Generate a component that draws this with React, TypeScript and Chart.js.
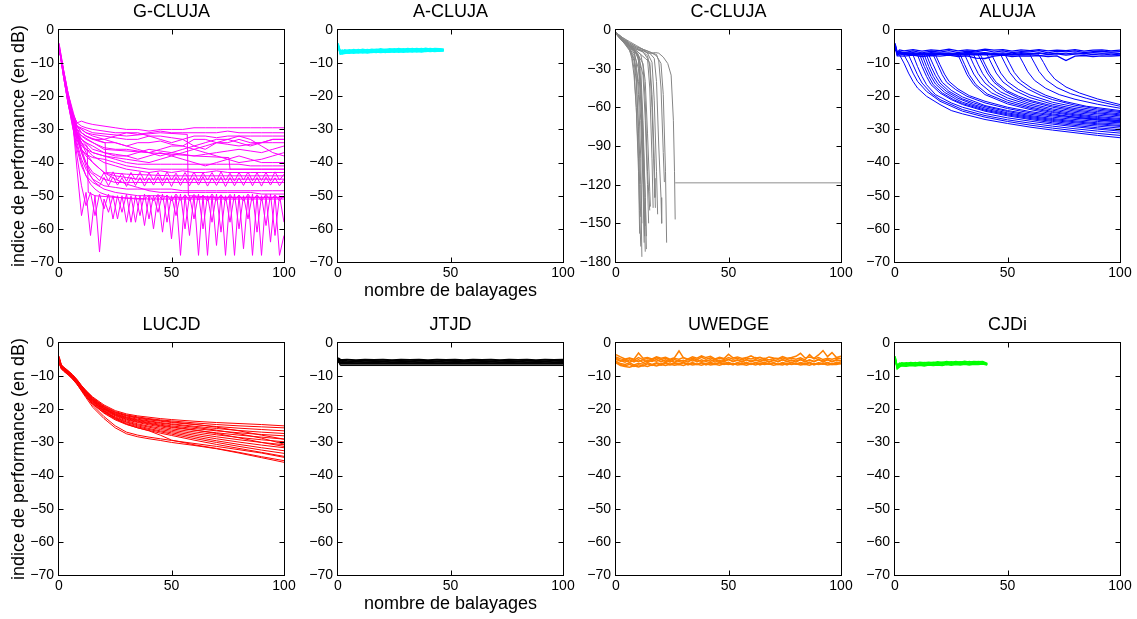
import React, { useEffect, useRef } from 'react';
import { Chart, registerables } from 'chart.js';

Chart.register(...registerables);

// ---------------- DATA ----------------
// G-CLUJA (magenta)
const gcX = [0, 2, 4, 6, 8, 10, 12, 15, 20, 25, 30, 35, 40, 45, 50, 55, 60, 65, 70, 75, 80, 85, 90, 95, 100];
const gcLines = [
  [-4, -12, -19, -25, -28, -27.5, -28, -28.5, -29, -29.5, -30, -30, -30.5, -30, -30, -30, -29.5, -29.5, -29.5, -29.5, -29.5, -29.5, -29.5, -29.5, -29.5],
  [-4, -12, -19, -25, -28, -29, -29.5, -30, -30.5, -31, -31, -31.5, -31, -30.5, -31, -31, -31, -31, -31, -30.5, -31, -31, -31, -31, -31],
  [-5, -13, -20, -26, -29, -30, -31, -31.5, -32, -32.5, -33, -33, -32, -32, -32.5, -33, -32, -32, -32.5, -32, -32, -32, -32, -32, -32],
  [-5, -13, -20, -26, -29, -31, -32, -33, -34, -34, -35, -34, -34, -33.5, -34.5, -35, -33, -33, -34, -34, -33, -34, -34, -33, -33],
  [-5, -13, -20, -26, -30, -32, -33, -34, -35.5, -36, -36, -36.5, -37, -36, -35, -35, -36, -35, -34, -34.5, -35, -34.5, -34, -34, -34],
  [-5, -13, -20, -26, -30, -33, -34, -35, -37, -37.5, -38, -37, -36, -36.5, -37, -37.5, -38, -37.5, -37, -36.5, -36, -36.5, -37, -36, -35],
  [-5, -13, -21, -27, -31, -34, -35, -37, -38, -38.5, -39, -39.5, -40, -39, -38, -37, -36, -37, -38, -39, -40, -39.5, -39, -38, -37],
  [-5, -13, -21, -27, -31, -35, -36, -37, -38, -39, -40, -40.5, -40.5, -40.5, -40.5, -40.5, -40.5, -40.5, -40.5, -40.5, -40.5, -41, -41, -41, -41],
  [-5, -13, -21, -27, -32, -36, -37.5, -38.5, -39, -40, -41, -41.5, -42, -42, -42, -42, -42, -42, -42, -42, -42, -42, -42, -42, -42],
  [-5, -13, -21, -27, -32, -34, -36, -38, -40, -41, -42, -42.5, -43, -42.5, -43, -42.5, -43, -43, -42.5, -43, -43, -43, -43, -43, -43],
  [-5, -13, -21, -28, -33, -36, -38, -40, -43, -44, -44.5, -45, -45, -45, -45, -45, -45, -45, -45, -45, -45, -45, -45, -45, -45],
  [-5, -14, -22, -28, -33, -37, -40, -43, -45, -46, -46, -46, -46, -46, -46, -46, -46, -46, -46, -46, -46, -46, -46, -46, -46],
  [-5, -14, -22, -28, -34, -39, -42, -45, -47, -47.5, -48, -48, -48, -48, -48, -48.5, -48.5, -48.5, -48.5, -48.5, -48.5, -48.5, -48.5, -48.5, -48.5],
  [-5, -13, -21, -27, -31, -34, -37, -40, -43, -45, -46.5, -47.5, -48.5, -49, -49, -49, -49, -49, -49, -49, -49, -49, -49.5, -49.5, -49.5],
  [-5, -14, -22, -29, -36, -41, -44, -46, -48, -49, -49.5, -50, -50, -50, -50.5, -50.5, -50.5, -50.5, -50.5, -50.5, -50.5, -50.5, -50.5, -50.5, -50.5],
  [-5, -13, -20, -26, -29, -31, -32, -33, -33, -32, -31, -31, -32, -33, -34, -33, -35, -36, -34, -33, -32, -33, -35, -37, -38],
  [-5, -13, -20, -26, -29, -30, -31, -32, -33, -34, -35, -36, -37, -38, -37, -36, -35, -34, -33, -33, -34, -35, -34, -33, -33],
  [-5, -13, -21, -27, -31, -33, -34, -36, -37, -38, -38, -39, -38, -37, -38, -39, -40, -41, -40, -39, -38, -39, -40, -40, -40],
];
const gzX = [0, 2, 4, 6, 8, 10, 12, 14, 16, 18, 20, 22, 24, 26, 28, 30, 32, 34, 36, 38, 40, 42, 44, 46, 48, 50, 52, 54, 56, 58, 60, 62, 64, 66, 68, 70, 72, 74, 76, 78, 80, 82, 84, 86, 88, 90, 92, 94, 96, 98, 100];
const gzLines = [
  [-5, -13, -20, -26, -31, -36, -40, -43, -44, -45.5,
    -43, -45.5, -42.8, -45.2, -43.2, -45.6, -43, -45.3, -42.9, -45.5,
    -43.1, -45.4, -43, -45.6, -42.8, -45.3, -43.2, -45.5, -43, -45.4,
    -42.9, -45.6, -43.1, -45.3, -43, -45.5, -42.8, -45.4, -43.2, -45.6,
    -43, -45.3, -42.9, -45.5, -43.1, -45.4, -43, -45.6, -42.8, -45.3, -43.5],
  [-5, -13, -20, -27, -32, -37, -41, -44, -46, -47,
    -44.5, -47, -44.3, -46.8, -44.6, -47.2, -44.4, -46.9, -44.5, -47.1,
    -44.6, -46.8, -44.3, -47, -44.5, -47.2, -44.4, -46.9, -44.6, -47,
    -44.5, -46.8, -44.3, -47.1, -44.6, -46.9, -44.4, -47.2, -44.5, -47,
    -44.6, -46.9, -44.3, -47, -44.5, -47.1, -44.4, -46.8, -44.6, -47, -45],
  [-5, -14, -22, -29, -35, -40, -44, -46.5, -48, -49,
    -49.5, -50, -50.2, -50.5, -50.6, -50.8, -50.8, -51, -51, -51,
    -49.8, -51.5, -49.6, -51.3, -49.8, -51.6, -49.5, -51.4, -49.7, -51.5,
    -49.6, -51.3, -49.8, -51.6, -49.5, -51.4, -49.7, -51.5, -49.6, -51.3,
    -49.8, -51.6, -49.5, -51.4, -49.7, -51.5, -49.6, -51.3, -49.8, -51.5, -50],
  [-5, -13, -20, -27, -42, -56, -49, -62, -50, -67,
    -51, -55, -50, -57, -50, -58, -50, -58, -50, -59,
    -50, -60, -50, -61, -50, -63, -50, -68, -50, -62,
    -50, -68, -50, -68, -50, -65, -50, -68, -50, -68,
    -50, -66, -50, -68, -50, -68, -50, -64, -50, -68, -62],
  [-5, -13, -21, -28, -38, -47, -53, -49, -56, -49.5,
    -54, -49.5, -57, -50, -55, -49.5, -58, -50, -56, -49.5,
    -57, -50, -55, -49.5, -58, -50, -56, -49.5, -60, -50,
    -57, -49.5, -60, -50, -58, -49.5, -61, -50, -58, -49.5,
    -60, -50, -57, -49.5, -61, -50, -59, -49.5, -62, -50, -58],
];
const gsLines = [
  [[0, -5], [4, -20], [8, -31], [10, -33], [12.5, -35], [13, -49], [16, -50], [25, -50.5], [40, -51], [100, -51]],
  [[0, -5], [4, -20], [8, -30], [12, -32], [16, -33], [20.5, -34], [21, -43], [30, -43.5], [50, -44], [100, -44]],
  [[0, -5], [4, -19], [8, -29], [15, -31], [30, -32], [45, -31], [57, -31.5], [57.5, -50], [70, -50.5], [100, -50.5]],
  [[0, -5], [4, -20], [8, -31], [20, -36], [40, -37], [60, -38], [75.5, -38.5], [76, -42], [90, -42], [100, -42]],
];

// A-CLUJA (cyan)
const acX = [0, 1, 2, 3, 5, 7, 9, 11, 13, 15, 17, 19, 21, 23, 25, 27, 29, 31, 33, 35, 37, 39, 41, 43, 45, 47];
const acLines = [
  [-4, -6.6, -6.9, -6.4, -6.8, -6.3, -6.7, -6.2, -6.6, -6.2, -6.5, -6.1, -6.5, -6.1, -6.4, -6.0, -6.4, -6.0, -6.3, -5.9, -6.3, -5.9, -6.2, -5.9, -6.1, -6.0],
  [-4.5, -7.1, -7.2, -6.9, -7.0, -6.7, -6.9, -6.6, -6.9, -6.6, -6.8, -6.5, -6.8, -6.5, -6.7, -6.4, -6.7, -6.4, -6.6, -6.3, -6.6, -6.3, -6.5, -6.3, -6.4, -6.3],
  [-5, -6.8, -6.5, -6.0, -6.3, -5.9, -6.2, -5.8, -6.1, -5.8, -6.0, -5.7, -6.0, -5.7, -5.9, -5.6, -5.9, -5.6, -5.8, -5.6, -5.8, -5.5, -5.8, -5.6, -5.7, -5.9],
  [-4.2, -7.3, -7.0, -7.1, -6.8, -7.0, -6.7, -6.9, -6.7, -6.8, -6.6, -6.8, -6.6, -6.7, -6.5, -6.7, -6.5, -6.6, -6.4, -6.6, -6.4, -6.5, -6.3, -6.5, -6.3, -6.2],
  [-4.8, -6.3, -6.1, -6.4, -6.0, -6.3, -5.9, -6.2, -5.9, -6.1, -5.8, -6.1, -5.8, -6.0, -5.7, -6.0, -5.7, -5.9, -5.6, -5.9, -5.6, -5.8, -5.6, -5.8, -5.7, -5.8],
  [-4.4, -6.9, -6.6, -6.7, -6.5, -6.6, -6.4, -6.6, -6.3, -6.5, -6.3, -6.4, -6.2, -6.4, -6.2, -6.3, -6.1, -6.3, -6.1, -6.2, -6.0, -6.2, -6.0, -6.1, -6.0, -6.2],
];

// C-CLUJA (grey)
const ccLines = [
  [[0, -2], [2, -6], [4, -10], [6, -15], [7, -22], [8, -35], [9, -60], [10, -100], [10.5, -140], [11, -168]],
  [[0, -2], [2, -6], [4, -10], [6, -14], [8, -24], [9, -40], [10, -75], [11, -120], [11.5, -176]],
  [[0, -3], [2, -7], [4, -11], [6, -15], [8, -22], [10, -40], [11, -70], [12, -120], [12.5, -165]],
  [[0, -3], [2, -7], [4, -10], [6, -13], [8, -18], [10, -30], [11, -55], [12, -100], [13, -172]],
  [[0, -2], [2, -6], [4, -9], [6, -12], [8, -16], [10, -22], [11, -40], [12, -80], [13, -130], [13.5, -160]],
  [[0, -3], [3, -8], [6, -12], [8, -15], [10, -20], [12, -35], [13, -70], [14, -120], [14.5, -150]],
  [[0, -3], [3, -8], [6, -12], [9, -16], [11, -19], [12, -28], [13, -55], [14, -110], [15, -140]],
  [[0, -2], [3, -8], [6, -13], [9, -17], [10, -22], [11, -45], [12, -90], [12.5, -130], [13, -152]],
  [[0, -3], [3, -9], [6, -14], [8, -20], [9, -35], [10, -80], [10.5, -120], [11, -145]],
  [[0, -2], [3, -7], [6, -11], [9, -15], [12, -17], [14, -22], [15, -45], [16, -100], [16.5, -138]],
  [[0, -3], [3, -8], [6, -12], [9, -15], [12, -16], [14, -18], [16, -25], [17, -55], [18, -110], [18.5, -143]],
  [[0, -3], [3, -8], [6, -11], [9, -14], [12, -16], [15, -18], [17, -22], [18, -40], [19, -90], [20, -130], [20.3, -150]],
  [[0, -2], [3, -7], [6, -10], [9, -13], [12, -15], [15, -17], [18, -20], [20, -26], [21, -50], [22, -110], [22.5, -165]],
  [[0, -2], [3, -6], [6, -9], [9, -12], [12, -15], [14, -18], [16, -18], [17.5, -17.5], [19, -18], [21, -21], [23, -26], [24.5, -35], [25.5, -70], [26, -110], [26.3, -147]],
  [[0, -3], [3, -8], [6, -12], [9, -16], [11, -19], [13, -22], [15, -25], [16, -50], [17, -100], [17.5, -138]],
  [[0, -3], [2, -7], [4, -11], [6, -16], [7, -20], [8, -30], [9, -60], [10, -110], [10.5, -158]],
  [[0, -2], [2, -6], [5, -11], [7, -15], [9, -18], [10, -24], [11, -50], [12, -110], [12.7, -160]],
  [[0, -3], [3, -8], [6, -12], [8, -15], [10, -19], [11, -30], [12, -70], [13, -130], [13.5, -170]],
  [[0, -3], [3, -8], [5, -11], [8, -16], [10, -20], [12, -26], [13, -40], [14, -80], [15, -125], [15.3, -137]],
  [[0, -2], [3, -7], [6, -11], [9, -14], [12, -17], [14, -20], [15, -28], [16, -60], [17, -115], [17.3, -130]],
  [[0, -3], [3, -8], [6, -13], [8, -16], [9, -25], [10, -50], [11, -100], [11.5, -150]],
  [[0, -2], [3, -6], [6, -10], [9, -13], [12, -15], [15, -17], [18, -19], [19, -24], [20, -45], [21, -95], [21.5, -118]],
];
const ccFloor = [[26.3, -118.5], [100, -118.5]];

// ALUJA (blue)
const alX = [0, 1, 2, 4, 8, 12, 16, 20, 24, 28, 32, 36, 40, 44, 48, 52, 56, 60, 64, 68, 72, 76, 80, 84, 88, 92, 96, 100];
const alBand = [
  [-4, -7, -6.5, -6.8, -6.3, -6.9, -6.4, -6.7, -6.2, -6.8, -6.4, -6.6, -6.1, -6.7, -6.3, -6.8, -6.5, -6.6, -6.2, -6.9, -6.4, -6.6, -6.3, -6.8, -6.5, -6.4, -6.7, -6.5],
  [-4.5, -7.5, -7.2, -7.4, -7.1, -7.5, -7.0, -7.3, -7.2, -7.6, -7.1, -7.3, -7.0, -7.4, -7.2, -7.5, -7.1, -7.3, -7.0, -7.4, -7.2, -7.6, -7.3, -7.1, -7.4, -7.2, -7.5, -7.3],
  [-5, -7.8, -7.8, -7.9, -7.6, -8.0, -7.7, -7.9, -7.6, -8.0, -7.8, -8.5, -8.6, -7.9, -7.6, -8.0, -7.8, -7.9, -7.7, -8.0, -7.8, -9.2, -7.9, -7.7, -8.0, -7.8, -7.9, -7.7],
  [-4.2, -6.8, -6.0, -6.3, -5.9, -6.4, -6.0, -6.2, -5.8, -6.3, -6.0, -6.2, -5.8, -6.1, -5.9, -6.4, -6.0, -6.2, -5.9, -6.3, -6.1, -6.2, -5.9, -6.4, -6.1, -6.0, -6.3, -6.1],
  [-4.8, -7.2, -6.9, -7.1, -6.8, -7.2, -6.8, -7.0, -6.9, -7.2, -6.7, -7.0, -6.8, -7.1, -6.9, -7.2, -6.8, -7.1, -6.9, -7.3, -7.0, -7.2, -6.9, -7.1, -6.8, -7.0, -6.9, -7.1],
];
const alDrops = [
  [[0, -5], [1, -7], [2, -7.5], [4, -10], [6, -13], [8, -15.5], [10, -17.5], [14, -20], [20, -22.5], [25, -24.3], [30, -25.3], [40, -27], [50, -28.2], [60, -29.3], [70, -30.2], [80, -31], [90, -31.8], [100, -32.5]],
  [[0, -5], [1, -7], [4, -7.5], [6, -10], [8, -13], [10, -15.5], [14, -18.5], [20, -21.5], [30, -24.5], [40, -26.3], [50, -27.6], [60, -28.7], [70, -29.6], [80, -30.4], [90, -31.2], [100, -31.8]],
  [[0, -5], [1, -7], [6, -7.5], [8, -10.5], [10, -13.5], [12, -16], [16, -19], [20, -21], [30, -24], [40, -25.8], [50, -27.1], [60, -28.1], [70, -29], [80, -29.8], [90, -30.5], [100, -31.1]],
  [[0, -5], [1, -7], [8, -7.5], [10, -11], [12, -14], [14, -16.5], [18, -19.5], [25, -22], [30, -23.3], [40, -25.2], [50, -26.5], [60, -27.5], [70, -28.4], [80, -29.2], [90, -29.9], [100, -30.5]],
  [[0, -5], [1, -7], [10, -7.5], [12, -11], [14, -14], [16, -16.5], [20, -19], [25, -21], [30, -22.5], [40, -24.5], [50, -25.9], [60, -27], [70, -28], [80, -28.8], [90, -29.5], [100, -30.1]],
  [[0, -5], [1, -7], [11, -7.5], [13, -11], [15, -14], [17, -16.5], [21, -19], [26, -21], [30, -22.2], [40, -24.2], [50, -25.6], [60, -26.7], [70, -27.6], [80, -28.4], [90, -29], [100, -29.6]],
  [[0, -5], [1, -7], [12, -7.5], [14, -11], [16, -14], [18, -16.3], [22, -18.8], [27, -20.8], [30, -21.8], [40, -23.9], [50, -25.3], [60, -26.4], [70, -27.3], [80, -28], [90, -28.6], [100, -29.1]],
  [[0, -5], [1, -7], [13, -7.5], [15, -11], [17, -14], [19, -16.2], [23, -18.6], [28, -20.6], [35, -22.5], [40, -23.5], [50, -25], [60, -26.1], [70, -27], [80, -27.7], [90, -28.3], [100, -28.8]],
  [[0, -5], [1, -7], [14, -7.5], [16, -11], [18, -13.8], [20, -16], [24, -18.5], [30, -20.8], [35, -22], [40, -23.1], [50, -24.6], [60, -25.8], [70, -26.7], [80, -27.4], [90, -28], [100, -28.4]],
  [[0, -5], [1, -7], [15, -7.5], [17, -10.5], [19, -13.5], [21, -15.8], [25, -18.2], [30, -20.2], [40, -22.8], [50, -24.3], [60, -25.4], [70, -26.3], [80, -27], [90, -27.6], [100, -28]],
  [[0, -5], [1, -7], [17, -7.5], [19, -10.5], [21, -13.5], [23, -15.8], [27, -18], [32, -20], [40, -22], [50, -23.7], [60, -25], [70, -25.9], [80, -26.6], [90, -27.2], [100, -27.6]],
  [[0, -5], [1, -7], [18, -7.5], [20, -10.5], [22, -13.3], [24, -15.5], [28, -17.8], [33, -19.8], [40, -21.5], [50, -23.3], [60, -24.6], [70, -25.6], [80, -26.3], [90, -26.9], [100, -27.3]],
  [[0, -5], [1, -7], [28, -7.5], [30, -10.5], [32, -13.5], [35, -16.5], [40, -19.5], [50, -22.3], [60, -24], [70, -25.3], [80, -26.3], [90, -27.1], [100, -27.8]],
  [[0, -5], [1, -7], [29, -7.5], [31, -10.5], [33, -13.5], [36, -16.5], [41, -19.3], [50, -21.8], [60, -23.6], [70, -24.9], [80, -25.9], [90, -26.7], [100, -27.4]],
  [[0, -5], [1, -7], [31, -7.5], [33, -10.5], [35, -13.3], [38, -16.2], [43, -19], [50, -21.2], [60, -23.2], [70, -24.6], [80, -25.6], [90, -26.4], [100, -27]],
  [[0, -5], [1, -7], [33, -7.5], [35, -10.5], [37, -13.2], [40, -16], [45, -18.8], [50, -20.5], [60, -22.7], [70, -24.2], [80, -25.3], [90, -26.1], [100, -26.7]],
  [[0, -5], [1, -7], [35, -7.5], [37, -10.5], [39, -13.2], [42, -16], [47, -18.7], [52, -20.3], [60, -22.2], [70, -23.8], [80, -24.9], [90, -25.7], [100, -26.3]],
  [[0, -5], [1, -7], [37, -7.5], [39, -10.3], [41, -13], [44, -15.8], [49, -18.5], [55, -20.5], [60, -21.6], [70, -23.3], [80, -24.5], [90, -25.3], [100, -25.9]],
  [[0, -5], [1, -7], [38, -7.5], [40, -10.3], [42, -13], [45, -15.8], [50, -18.4], [55, -20], [60, -21.2], [70, -22.9], [80, -24.1], [90, -25], [100, -25.6]],
  [[0, -5], [1, -7], [41, -7.5], [43, -10.3], [45, -13], [48, -15.7], [53, -18.2], [60, -20.4], [70, -22.4], [80, -23.7], [90, -24.6], [100, -25.3]],
  [[0, -5], [1, -7], [43, -7.5], [45, -10.3], [47, -13], [50, -15.6], [55, -18], [60, -19.6], [70, -21.8], [80, -23.2], [90, -24.2], [100, -24.9]],
  [[0, -5], [1, -7], [47, -7.5], [49, -10.2], [51, -12.8], [54, -15.4], [59, -17.8], [65, -19.8], [70, -21], [80, -22.7], [90, -23.8], [100, -24.6]],
  [[0, -5], [1, -7], [49, -7.5], [51, -10.2], [53, -12.8], [56, -15.3], [61, -17.7], [67, -19.7], [75, -21.5], [85, -23], [100, -24.3]],
  [[0, -5], [1, -7], [55, -7.5], [57, -10], [59, -12.6], [62, -15.2], [67, -17.6], [73, -19.5], [80, -20.9], [90, -22.4], [100, -23.6]],
  [[0, -5], [1, -7], [60, -7.5], [62, -10], [64, -12.5], [67, -15], [72, -17.4], [78, -19.2], [85, -20.6], [92, -21.8], [100, -23]],
  [[0, -5], [1, -7], [64, -7.5], [66, -9.8], [68, -12.3], [71, -14.8], [76, -17.2], [82, -19], [90, -20.8], [100, -22.5]],
];

// LUCJD (red)
const lcX = [0, 1, 2, 4, 6, 8, 10, 12, 15, 20, 25, 30, 35, 40, 45, 50, 60, 70, 80, 90, 100];
const lcLines = [
  [-4, -6.5, -7.2, -8.3, -9.5, -11, -12.8, -14.3, -16.3, -18.7, -20.4, -21.4, -22, -22.4, -22.8, -23.1, -23.6, -24, -24.3, -24.6, -25],
  [-4, -6.6, -7.3, -8.4, -9.6, -11.1, -12.9, -14.5, -16.5, -19, -20.7, -21.7, -22.3, -22.8, -23.2, -23.5, -24.1, -24.6, -25, -25.3, -25.6],
  [-4.5, -6.8, -7.5, -8.6, -9.8, -11.3, -13.1, -14.7, -16.8, -19.3, -21, -22, -22.7, -23.2, -23.6, -24, -24.6, -25.2, -25.7, -26.1, -26.5],
  [-4.5, -7, -7.6, -8.7, -9.9, -11.4, -13.2, -14.8, -17, -19.5, -21.2, -22.3, -23, -23.5, -24, -24.4, -25.1, -25.8, -26.4, -26.9, -27.3],
  [-5, -7.1, -7.8, -8.8, -10, -11.6, -13.4, -15, -17.2, -19.8, -21.5, -22.6, -23.4, -24, -24.5, -25, -25.8, -26.5, -27.1, -27.6, -28],
  [-5, -7.2, -7.9, -9, -10.2, -11.7, -13.5, -15.2, -17.4, -20, -21.8, -23, -23.8, -24.4, -25, -25.5, -26.3, -27.1, -27.8, -28.4, -29],
  [-5, -7.3, -8, -9.1, -10.3, -11.9, -13.7, -15.4, -17.6, -20.2, -22, -23.2, -24, -24.7, -25.3, -25.9, -26.8, -27.7, -28.5, -29.2, -29.8],
  [-5.5, -7.4, -8.1, -9.2, -10.5, -12, -13.8, -15.5, -17.8, -20.4, -22.3, -23.5, -24.4, -25.1, -25.7, -26.3, -27.3, -28.3, -29.2, -30, -30.7],
  [-5.5, -7.5, -8.2, -9.3, -10.6, -12.2, -14, -15.7, -18, -20.6, -22.5, -23.8, -24.7, -25.4, -26.1, -26.7, -27.8, -28.9, -29.9, -30.8, -31.6],
  [-6, -7.6, -8.3, -9.4, -10.7, -12.3, -14.1, -15.8, -18.2, -20.8, -22.7, -24, -25, -25.8, -26.5, -27.1, -28.3, -29.5, -30.6, -31.6, -32.5],
  [-6, -7.7, -8.4, -9.5, -10.8, -12.4, -14.2, -16, -18.4, -21, -23, -24.3, -25.3, -26.1, -26.8, -27.5, -28.8, -30, -31.2, -32.3, -33.3],
  [-6, -7.8, -8.5, -9.6, -10.9, -12.5, -14.3, -16.1, -18.5, -21.2, -23.2, -24.6, -25.6, -26.4, -27.2, -27.9, -29.3, -30.6, -31.8, -33, -34.2],
  [-5, -7.3, -8, -9.2, -10.5, -12.2, -14.2, -16.1, -18.8, -22.2, -25, -26.9, -27.8, -28.4, -28.9, -29.4, -30.3, -31.2, -32.2, -33.2, -34.5],
  [-5, -7.4, -8.1, -9.3, -10.6, -12.4, -14.5, -16.5, -19.4, -22.8, -25.6, -27.4, -28.3, -28.9, -29.4, -30, -30.9, -31.9, -33.2, -34.6, -36],
  [-5, -7, -7.7, -8.8, -10, -11.6, -13.5, -15.3, -17.6, -20.5, -22.8, -24.5, -25.6, -26.5, -27.8, -29.3, -30.7, -31.8, -33, -34.3, -35.5],
  [-4.5, -6.7, -7.4, -8.5, -9.7, -11.2, -13, -14.6, -16.7, -19.2, -20.9, -21.9, -22.5, -23, -23.4, -23.8, -24.5, -25.4, -26.5, -27.8, -29],
  [-4.5, -6.9, -7.6, -8.6, -9.8, -11.4, -13.2, -14.9, -17.1, -19.7, -21.4, -22.5, -23.2, -23.7, -24.2, -24.6, -25.4, -26.3, -27.4, -28.7, -30.5],
  [-5, -7, -7.7, -8.8, -10, -11.5, -13.3, -15, -17.3, -19.9, -21.7, -22.8, -23.6, -24.2, -24.8, -25.3, -26.2, -27.3, -28.6, -30, -31.2],
];

// JTJD (black)
const jtX = alX;
const jtLines = [
  [-4.5, -5.0, -5.1, -5.0, -5.2, -5.0, -5.1, -5.0, -5.2, -5.0, -5.1, -5.0, -5.2, -5.0, -5.1, -5.0, -5.2, -5.0, -5.1, -5.0, -5.2, -5.0, -5.1, -5.0, -5.2, -5.0, -5.1, -5.0],
  [-4.8, -5.4, -5.3, -5.4, -5.5, -5.3, -5.4, -5.5, -5.3, -5.4, -5.5, -5.3, -5.4, -5.5, -5.3, -5.4, -5.5, -5.3, -5.4, -5.5, -5.3, -5.4, -5.5, -5.3, -5.4, -5.5, -5.3, -5.4],
  [-5, -5.8, -5.7, -5.8, -5.6, -5.8, -5.7, -5.6, -5.8, -5.7, -5.6, -5.8, -5.7, -5.6, -5.8, -5.7, -5.6, -5.8, -5.7, -5.6, -5.8, -5.7, -5.6, -5.8, -5.7, -5.6, -5.8, -5.7],
  [-5.2, -6.1, -6.0, -5.9, -6.1, -6.0, -5.9, -6.1, -6.0, -5.9, -6.1, -6.0, -5.9, -6.1, -6.0, -5.9, -6.1, -6.0, -5.9, -6.1, -6.0, -5.9, -6.1, -6.0, -5.9, -6.1, -6.0, -5.9],
  [-5.5, -6.3, -6.2, -6.3, -6.2, -6.3, -6.2, -6.3, -6.2, -6.3, -6.2, -6.3, -6.2, -6.3, -6.2, -6.3, -6.2, -6.3, -6.2, -6.3, -6.2, -6.3, -6.2, -6.3, -6.2, -6.3, -6.2, -6.3],
];
const jtThin = [[0, -5], [1, -6.8], [100, -6.8]];

// UWEDGE (orange)
const uwX = gzX;
const uwLines = [
  [-3.5, -4.2, -4.8, -4.5, -4.9, -3.0, -4.6, -4.4, -4.8, -4.2,
    -4.6, -4.3, -4.9, -4.4, -2.4, -4.5, -4.8, -4.2, -4.6, -3.9,
    -4.4, -4.0, -4.8, -4.3, -4.7, -3.4, -4.5, -4.2, -4.7, -4.4,
    -3.9, -4.6, -4.3, -4.8, -4.2, -4.5, -4.7, -4.1, -4.6, -4.4,
    -4.0, -3.1, -4.5, -4.2, -4.6, -3.6, -2.3, -4.1, -2.9, -4.4, -4.0],
  [-5.0, -5.5, -5.2, -5.8, -5.3, -5.6, -5.1, -5.7, -5.2, -5.5,
    -5.0, -5.6, -5.3, -5.8, -5.2, -5.5, -5.0, -5.4, -5.1, -5.6,
    -5.2, -5.5, -5.1, -5.6, -5.3, -5.0, -5.5, -5.2, -5.6, -5.1,
    -5.4, -5.0, -5.5, -5.2, -5.7, -5.3, -5.5, -5.1, -5.6, -5.2,
    -5.4, -5.0, -5.5, -5.2, -5.6, -5.1, -5.4, -5.0, -5.5, -5.2, -5.3],
  [-5.5, -6.2, -6.5, -6.0, -6.6, -6.1, -6.4, -5.9, -6.5, -6.0,
    -6.3, -5.8, -6.4, -6.0, -6.2, -5.8, -6.3, -5.9, -6.4, -6.0,
    -6.2, -5.8, -6.3, -5.9, -6.1, -5.8, -6.4, -6.0, -6.2, -5.8,
    -6.3, -5.9, -6.1, -5.8, -6.3, -6.0, -6.4, -5.9, -6.2, -5.8,
    -6.3, -5.9, -6.2, -5.8, -6.4, -6.0, -6.2, -5.9, -6.3, -5.8, -6.0],
  [-6.0, -6.8, -7.1, -7.3, -6.9, -7.2, -6.8, -7.1, -6.6, -6.9,
    -6.5, -6.8, -6.4, -6.7, -6.5, -6.8, -6.3, -6.6, -6.4, -6.7,
    -6.3, -6.6, -6.4, -6.7, -6.3, -6.5, -6.2, -6.6, -6.4, -6.7,
    -6.3, -6.6, -6.2, -6.5, -6.3, -6.7, -6.4, -6.6, -6.2, -6.5,
    -6.3, -6.6, -6.4, -6.7, -6.2, -6.5, -6.3, -6.6, -6.4, -6.5, -6.2],
  [-4.2, -4.8, -5.1, -4.6, -5.2, -4.4, -5.0, -4.7, -5.1, -4.5,
    -5.0, -4.6, -5.2, -4.7, -4.9, -4.4, -5.1, -4.6, -5.0, -4.3,
    -4.9, -4.5, -5.1, -4.6, -5.0, -4.4, -4.9, -4.6, -5.1, -4.5,
    -4.8, -4.4, -5.0, -4.6, -5.1, -4.7, -4.9, -4.5, -5.0, -4.6,
    -4.9, -4.5, -5.1, -3.5, -4.8, -4.4, -5.0, -4.6, -4.9, -4.5, -4.7],
  [-4.6, -5.3, -5.8, -5.1, -5.7, -5.0, -5.9, -5.2, -5.6, -4.9,
    -5.7, -5.1, -5.8, -5.0, -5.6, -5.2, -5.8, -4.9, -5.7, -5.1,
    -5.6, -5.0, -5.8, -5.2, -5.7, -4.9, -5.6, -5.1, -5.8, -5.0,
    -5.7, -5.2, -5.6, -4.9, -5.8, -5.1, -5.7, -5.0, -5.6, -5.2,
    -5.8, -5.0, -5.7, -5.1, -5.6, -4.9, -5.8, -5.1, -5.7, -5.0, -5.5],
  [-5.8, -6.5, -6.9, -6.4, -7.1, -6.6, -6.9, -6.3, -6.8, -6.2,
    -6.7, -6.1, -6.6, -6.2, -6.5, -6.0, -6.6, -6.1, -6.5, -6.0,
    -6.6, -6.1, -6.4, -6.0, -6.5, -6.1, -6.6, -6.0, -6.4, -6.1,
    -6.5, -6.0, -6.6, -6.1, -6.4, -6.0, -6.5, -6.1, -6.6, -6.0,
    -6.4, -6.1, -6.5, -6.0, -6.6, -6.1, -6.4, -6.0, -6.5, -6.1, -6.3],
];

// CJDi (green)
const cjX = [0, 1, 2, 3, 5, 7, 9, 11, 13, 15, 17, 19, 21, 23, 25, 27, 29, 31, 33, 35, 37, 39, 41];
const cjLines = [
  [-4, -7.5, -6.8, -6.5, -6.7, -6.3, -6.6, -6.2, -6.5, -6.2, -6.5, -6.1, -6.4, -6.1, -6.4, -6.0, -6.3, -6.0, -6.3, -6.0, -6.2, -6.0, -6.4],
  [-4.5, -7.8, -7.2, -6.9, -7.0, -6.8, -6.9, -6.7, -6.9, -6.6, -6.8, -6.6, -6.8, -6.5, -6.7, -6.5, -6.6, -6.4, -6.6, -6.4, -6.5, -6.3, -6.6],
  [-5, -7.0, -6.3, -6.0, -6.2, -5.9, -6.1, -5.8, -6.0, -5.8, -6.0, -5.7, -5.9, -5.6, -5.9, -5.6, -5.8, -5.5, -5.8, -5.6, -5.7, -5.6, -6.2],
  [-4.2, -7.3, -6.6, -6.8, -6.5, -6.7, -6.4, -6.6, -6.3, -6.6, -6.3, -6.5, -6.2, -6.5, -6.2, -6.4, -6.1, -6.4, -6.1, -6.3, -6.0, -6.3, -6.5],
  [-4.8, -6.9, -6.1, -6.4, -6.0, -6.3, -5.9, -6.2, -5.9, -6.1, -5.8, -6.1, -5.8, -6.0, -5.7, -6.0, -5.7, -5.9, -5.6, -5.9, -5.6, -5.8, -6.3],
];

const xTicks = [0, 50, 100];
const titles = ['G-CLUJA', 'A-CLUJA', 'C-CLUJA', 'ALUJA', 'LUCJD', 'JTJD', 'UWEDGE', 'CJDi'];
const yLabel = 'indice de performance (en dB)';
const xLabel = 'nombre de balayages';

// ---------------- LAYOUT ----------------
const FONT = "'Liberation Sans', Arial, Helvetica, sans-serif";
const COL_LEFT = [59, 338, 616, 895];
const ROW_TOP = [30, 343];
const PLOT_W = 225;
const PLOT_H = 232;
const YW = 59;
const TH = 30;
const XH = 40;
const PR = 18;

type P = { x: number; y: number };
const zip = (xs: number[], ys: number[]): P[] => ys.slice(0, xs.length).map((y, i) => ({ x: xs[i], y }));
const pts = (p: number[][]): P[] => p.map(([x, y]) => ({ x, y }));

interface Series { data: P[]; color: string; width?: number }
interface Spec {
  title: string;
  series: Series[];
  yMin: number;
  yStep: number;
  col: number;
  row: number;
  yTitle?: boolean;
  xTitle?: boolean;
}

const MAG = '#ff00ff', CYAN = '#00ffff', GREY = '#858585', BLUE = '#0000ff', RED = '#ff0000', BLACK = '#000000', ORANGE = '#ff8000', GREEN = '#00ff00';

const specs: Spec[] = [
  {
    title: titles[0], yMin: -70, yStep: 10, col: 0, row: 0, yTitle: true,
    series: [
      ...gcLines.map((y) => ({ data: zip(gcX, y), color: MAG })),
      ...gzLines.map((y) => ({ data: zip(gzX, y), color: MAG })),
      ...gsLines.map((p) => ({ data: pts(p), color: MAG })),
    ],
  },
  {
    title: titles[1], yMin: -70, yStep: 10, col: 1, row: 0, xTitle: true,
    series: acLines.map((y) => ({ data: zip(acX, y), color: CYAN, width: 1.6 })),
  },
  {
    title: titles[2], yMin: -180, yStep: 30, col: 2, row: 0,
    series: [
      ...ccLines.map((p) => ({ data: pts(p), color: GREY })),
      { data: pts(ccFloor), color: '#b4b4b4', width: 1.5 },
    ],
  },
  {
    title: titles[3], yMin: -70, yStep: 10, col: 3, row: 0,
    series: [
      ...alBand.map((y) => ({ data: zip(alX, y), color: BLUE, width: 1.3 })),
      ...alDrops.map((p) => ({ data: pts(p), color: BLUE })),
    ],
  },
  {
    title: titles[4], yMin: -70, yStep: 10, col: 0, row: 1, yTitle: true,
    series: lcLines.map((y) => ({ data: zip(lcX, y), color: RED })),
  },
  {
    title: titles[5], yMin: -70, yStep: 10, col: 1, row: 1, xTitle: true,
    series: [
      ...jtLines.map((y) => ({ data: zip(jtX, y), color: BLACK, width: 1.8 })),
      { data: pts(jtThin), color: BLACK, width: 1 },
    ],
  },
  {
    title: titles[6], yMin: -70, yStep: 10, col: 2, row: 1,
    series: uwLines.map((y) => ({ data: zip(uwX, y), color: ORANGE, width: 1.5 })),
  },
  {
    title: titles[7], yMin: -70, yStep: 10, col: 3, row: 1,
    series: cjLines.map((y) => ({ data: zip(cjX, y), color: GREEN, width: 1.6 })),
  },
];

const fmt = (v: number) => (v < 0 ? '\u2212' + Math.abs(v) : String(v));

const framePlugin = {
  id: 'frame',
  afterDatasetsDraw(chart: any) {
    const { ctx, chartArea: a } = chart;
    const xs = chart.scales.x;
    const ys = chart.scales.y;
    ctx.save();
    ctx.strokeStyle = '#000';
    ctx.lineWidth = 1;
    const l = a.left - 0.5, r = a.right + 0.5, t = a.top - 0.5, b = a.bottom + 0.5;
    ctx.strokeRect(l, t, r - l, b - t);
    ctx.beginPath();
    xs.ticks.forEach((tk: any) => {
      if (tk.value <= xs.min || tk.value >= xs.max) return;
      const px = Math.round(xs.getPixelForValue(tk.value)) + 0.5;
      ctx.moveTo(px, b); ctx.lineTo(px, b - 5);
      ctx.moveTo(px, t); ctx.lineTo(px, t + 5);
    });
    ys.ticks.forEach((tk: any) => {
      if (tk.value <= ys.min || tk.value >= ys.max) return;
      const py = Math.round(ys.getPixelForValue(tk.value)) + 0.5;
      ctx.moveTo(l, py); ctx.lineTo(l + 5, py);
      ctx.moveTo(r, py); ctx.lineTo(r - 5, py);
    });
    ctx.stroke();
    ctx.restore();
  },
};

function Panel({ spec }: { spec: Spec }) {
  const ref = useRef<HTMLCanvasElement>(null);
  const cw = YW + PLOT_W + PR;
  const ch = TH + PLOT_H + XH;
  useEffect(() => {
    const canvas = ref.current;
    if (!canvas) return;
    const chart = new Chart(canvas, {
      type: 'line',
      data: {
        datasets: spec.series.map((s) => ({
          data: s.data,
          borderColor: s.color,
          borderWidth: s.width ?? 1,
          pointRadius: 0,
          tension: 0,
          fill: false,
        })),
      },
      options: {
        animation: false,
        responsive: false,
        maintainAspectRatio: false,
        events: [],
        devicePixelRatio: 1,
        layout: { padding: { left: 0, right: PR, top: 0, bottom: 0 } },
        plugins: {
          legend: { display: false },
          tooltip: { enabled: false },
          title: {
            display: true,
            text: spec.title,
            color: '#000',
            fullSize: false,
            font: { family: FONT, size: 18, weight: 'normal', lineHeight: 20 / 18 },
            padding: { top: 2, bottom: 8 },
          },
        },
        scales: {
          x: {
            type: 'linear',
            min: 0,
            max: 100,
            afterBuildTicks: (s: any) => { s.ticks = xTicks.map((v) => ({ value: v })); },
            ticks: { color: '#000', font: { family: FONT, size: 14 }, padding: 3, maxRotation: 0, autoSkip: false },
            grid: { display: false, drawTicks: false },
            border: { display: false },
            title: {
              display: !!spec.xTitle,
              text: xLabel,
              color: '#000',
              font: { family: FONT, size: 18, lineHeight: 1.2 },
              padding: { top: 0, bottom: 0 },
            },
            afterFit: (s: any) => { s.height = XH; s.paddingLeft = 0; s.paddingRight = 0; },
          },
          y: {
            type: 'linear',
            min: spec.yMin,
            max: 0,
            ticks: { stepSize: spec.yStep, color: '#000', font: { family: FONT, size: 14 }, padding: 5, callback: (v: any) => fmt(Number(v)) },
            grid: { display: false, drawTicks: false },
            border: { display: false },
            title: {
              display: !!spec.yTitle,
              text: yLabel,
              color: '#000',
              font: { family: FONT, size: 18, lineHeight: 1.2 },
              padding: { top: 8.5, bottom: 0 },
            },
            afterFit: (s: any) => { s.width = YW; s.paddingTop = 0; s.paddingBottom = 0; },
          },
        },
      } as any,
      plugins: [framePlugin],
    });
    return () => chart.destroy();
  }, [spec]);
  return (
    <canvas
      ref={ref}
      width={cw}
      height={ch}
      style={{ position: 'absolute', left: COL_LEFT[spec.col] - YW, top: ROW_TOP[spec.row] - TH, width: cw, height: ch }}
    />
  );
}

export default function App() {
  return (
    <div style={{ position: 'fixed', left: 0, top: 0, width: 1137, height: 619, background: '#fff', overflow: 'hidden' }}>
      {specs.map((s, i) => (
        <Panel key={i} spec={s} />
      ))}
    </div>
  );
}
